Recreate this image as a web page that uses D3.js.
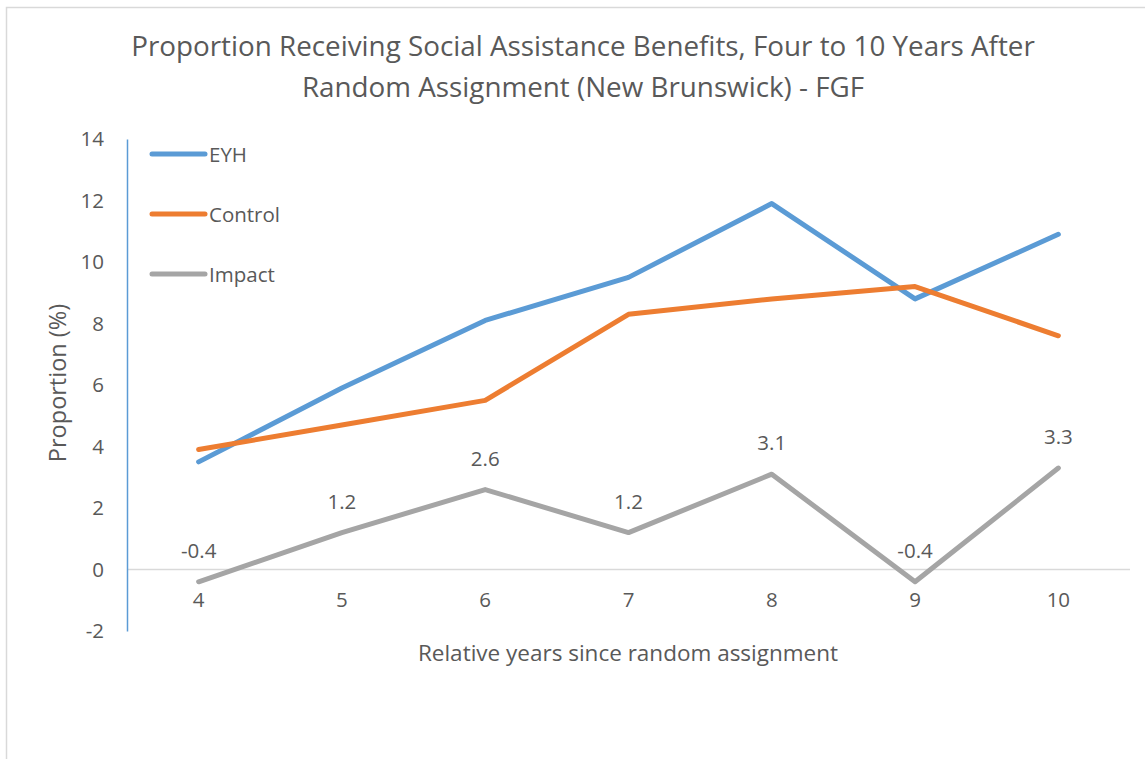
<!DOCTYPE html>
<html><head><meta charset="utf-8">
<script src="https://cdn.jsdelivr.net/npm/d3@7"></script>
<style>body{margin:0;background:#fff}svg{display:block}text{font-family:"Open Sans",sans-serif;fill:#595959}</style>
</head><body><svg id="c" width="1145" height="759"></svg>
<script>
const categories = ["4","5","6","7","8","9","10"];
const eyh = [3.5, 5.9, 8.1, 9.5, 11.9, 8.8, 10.9];
const control = [3.9, 4.7, 5.5, 8.3, 8.8, 9.2, 7.6];
const impact = [-0.4, 1.2, 2.6, 1.2, 3.1, -0.4, 3.3];
const yTicks = [-2, 0, 2, 4, 6, 8, 10, 12, 14];
const seriesNames = ["EYH", "Control", "Impact"];
const colors = ["#5B9BD5", "#ED7D31", "#A5A5A5"];
const titleLines = ["Proportion Receiving Social Assistance Benefits, Four to 10 Years After", "Random Assignment (New Brunswick) - FGF"];

const svg = d3.select("#c");
svg.append("rect").attr("x",6.5).attr("y",7.5).attr("width",1160).attr("height",780)
  .attr("fill","#fff").attr("stroke","#d9d9d9").attr("stroke-width",1.5);

const x = d3.scaleBand().domain(categories).range([127,1130]);
const cx = c => x(c) + x.bandwidth()/2;
const y = d3.scaleLinear().domain([-2,14]).range([631,139]);
const num = d => String(d).replace("\u2212","-");

// title
svg.append("g").selectAll("text").data(titleLines).join("text")
  .attr("x",583).attr("y",(d,i)=>56+i*41).attr("text-anchor","middle")
  .style("font-size","27.8px").text(d=>d);

// zero gridline
svg.append("line").attr("x1",127).attr("x2",1130).attr("y1",y(0)).attr("y2",y(0))
  .attr("stroke","#d9d9d9").attr("stroke-width",1.5);

// y axis
const yAx = svg.append("g").attr("transform","translate(127,0)")
  .call(d3.axisLeft(y).tickValues(yTicks).tickSize(0).tickPadding(23).tickFormat(d=>num(d)));
yAx.select(".domain").attr("stroke","#5B9BD5").attr("stroke-width",1.5);
yAx.selectAll("text").style("font-size","20.5px").attr("fill","#595959").style("font-family","'Open Sans',sans-serif");

// x labels
const xAx = svg.append("g").attr("transform",`translate(0,${y(0)})`)
  .call(d3.axisBottom(x).tickSize(0).tickPadding(23));
xAx.select(".domain").remove();
xAx.selectAll("text").style("font-size","20.5px").attr("fill","#595959").style("font-family","'Open Sans',sans-serif");

// axis titles
svg.append("text").attr("x",628).attr("y",661).attr("text-anchor","middle")
  .style("font-size","22.5px").text("Relative years since random assignment");
svg.append("text").attr("transform","translate(66,383) rotate(-90)").attr("text-anchor","middle")
  .style("font-size","23.5px").text("Proportion (%)");

const line = d3.line().x((d,i)=>cx(categories[i])).y(d=>y(d));
const data = [eyh, control, impact];
[2,0,1].forEach(k=>{
  svg.append("path").datum(data[k]).attr("d",line).attr("fill","none")
    .attr("stroke",colors[k]).attr("stroke-width",5).attr("stroke-linecap","round").attr("stroke-linejoin","round");
});

// data labels for impact
svg.append("g").selectAll("text").data(impact).join("text")
  .attr("x",(d,i)=>cx(categories[i])).attr("y",d=>y(d)-24).attr("text-anchor","middle")
  .style("font-size","20.5px").attr("fill","#404040").text(d=>num(d3.format(".1f")(d)));

// legend
const lg = svg.append("g");
seriesNames.forEach((n,i)=>{
  const yy = 154 + i*60;
  lg.append("line").attr("x1",152).attr("x2",205).attr("y1",yy).attr("y2",yy)
    .attr("stroke",colors[i]).attr("stroke-width",5).attr("stroke-linecap","round");
  lg.append("text").attr("x",209).attr("y",yy+7.5).style("font-size","20.5px").text(n);
});
</script></body></html>
